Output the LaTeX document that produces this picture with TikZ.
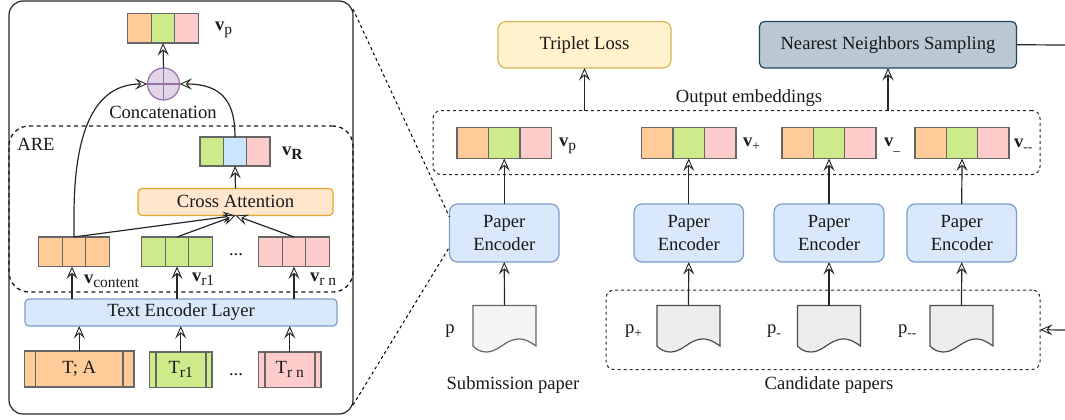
\documentclass[tikz,border=0pt]{standalone}
\usepackage{fontspec}
\setmainfont{Liberation Serif}
\usetikzlibrary{arrows.meta}
\definecolor{cOr}{HTML}{FFCC99}
\definecolor{cGr}{HTML}{CDEB8B}
\definecolor{cPk}{HTML}{FFCCCC}
\definecolor{cBl}{HTML}{CCE5FF}
\definecolor{cEnc}{HTML}{DAE8FC}
\definecolor{cEncS}{HTML}{7C9CCB}
\definecolor{cStroke}{HTML}{666666}
\definecolor{cPur}{HTML}{E1D5E7}
\definecolor{cPurS}{HTML}{9673A6}
\definecolor{cTri}{HTML}{FFF2CC}
\definecolor{cTriS}{HTML}{D6B656}
\definecolor{cNN}{HTML}{BAC8D3}
\definecolor{cNNS}{HTML}{23445D}
\definecolor{cCA}{HTML}{FFE6CC}
\definecolor{cCAS}{HTML}{E0A82E}
\newcommand{\bigfont}{\fontsize{18.6}{23}\selectfont}
\newcommand{\subfont}{\fontsize{15.5}{15}\selectfont}
\newcommand{\smfont}{\fontsize{13.5}{13}\selectfont}
\newcommand{\subt}[1]{\raisebox{-4pt}{\subfont #1}}
\newcommand{\subs}[1]{\raisebox{-4pt}{\smfont #1}}
% rectangle-like node from corners
\newcommand{\bx}[7]{\node[#6,inner sep=0pt,outer sep=0pt,align=center,minimum width={(#4)-(#2)},minimum height={(#5)-(#3)}] (#1) at ({((#2)+(#4))/2},{((#3)+(#5))/2}) {#7};}
% three-cell vector
\newcommand{\vecb}[8]{%
 \pgfmathsetmacro{\cw}{((#4)-(#2))/3}
 \node[cell,fill=#6,minimum width=\cw,minimum height={(#5)-(#3)}] (#1a) at ({(#2)+\cw/2},{((#3)+(#5))/2}) {};
 \node[cell,fill=#7,minimum width=\cw,minimum height={(#5)-(#3)}] (#1b) at ({(#2)+\cw*1.5},{((#3)+(#5))/2}) {};
 \node[cell,fill=#8,minimum width=\cw,minimum height={(#5)-(#3)}] (#1c) at ({(#2)+\cw*2.5},{((#3)+(#5))/2}) {};
 \node[inner sep=0pt,outer sep=0pt,minimum width={(#4)-(#2)},minimum height={(#5)-(#3)}] (#1) at ({((#2)+(#4))/2},{((#3)+(#5))/2}) {};}
% document shape
\newcommand{\docu}[3]{%
 \draw[#3] (#2,305.5) -- ({#2+63},305.5) -- ({#2+63},346) .. controls ({#2+52},338) and ({#2+45},337) .. ({#2+35},342) .. controls ({#2+26},347) and ({#2+22},352) .. ({#2+13},352) .. controls ({#2+7},352) and ({#2+3},349) .. (#2,346) -- cycle;
 \node[inner sep=0pt,outer sep=0pt,minimum width=63,minimum height=46.5] (#1) at ({#2+31.5},328.75) {};}
\tikzset{
 x=1pt,y=-1pt,
 every node/.style={font=\bigfont,text=black!90},
 cell/.style={draw=cStroke,line width=1.2pt,inner sep=0pt,outer sep=0pt},
 arr/.style={line width=1.2pt,draw=black!85,-{Stealth[length=12.5pt,width=11pt,inset=5pt,fill=white,line width=.9pt]}},
 plain/.style={line width=1.2pt,draw=black!85},
 dashbox/.style={draw=black!85,line width=1pt,dash pattern=on 3pt off 3pt,rounded corners=8pt},
 zoomline/.style={draw=black,line width=1pt,dash pattern=on 3pt off 3pt},
 encbox/.style={draw=cEncS,fill=cEnc,line width=1.2pt,rounded corners=8pt},
 labeltxt/.style={inner sep=0pt,outer sep=0pt},
 doclight/.style={draw=cStroke,fill=black!4,line width=1.2pt},
 docdark/.style={draw=black!70,fill=black!7,line width=1.2pt},
 tbox/.style={draw=cStroke,line width=1.2pt},
}
\begin{document}
\begin{tikzpicture}
\useasboundingbox (0,0) rectangle (1065,420);
% zoom lines
\coordinate (ztop) at (353,9);
\coordinate (zbot) at (353,405);
% left panel
\node[draw=black!85,line width=1.2pt,rounded corners=14pt,inner sep=0pt,outer sep=0pt,minimum width=344,minimum height=413] (panel) at (181,207.5) {};
\node[draw=black!90,line width=1.3pt,dash pattern=on 4pt off 3.5pt,rounded corners=20pt,inner sep=0pt,outer sep=0pt,minimum width=344,minimum height=166] (are) at (181,209) {};
\node[labeltxt] (arelab) at (36,144) {ARE};
\vecb{pv}{127.5}{13.5}{198.5}{43}{cOr}{cGr}{cPk}
\node[labeltxt,anchor=west] (pvlab) at (215,30) {\textbf{v}\subt{p}};
\node[circle,draw=cPurS,fill=cPur,line width=1.2pt,inner sep=0pt,outer sep=0pt,minimum size=32] (sum) at (163.5,84) {};
\draw[draw=cPurS,line width=1.2pt] (sum.north) -- (sum.south) (sum.west) -- (sum.east);
\node[labeltxt] (conc) at (163,112) {Concatenation};
\vecb{rv}{200}{137}{270}{166}{cGr}{cBl}{cPk}
\node[labeltxt,anchor=west] (rvlab) at (282,153) {\textbf{v}\raisebox{-4pt}{\subfont\textbf{R}}};
\bx{ca}{138}{188.5}{333}{215.5}{draw=cCAS,fill=cCA,line width=1.2pt,rounded corners=4pt}{\raisebox{1pt}{Cross Attention}}
\vecb{cv}{38.5}{237}{109.5}{266.5}{cOr}{cOr}{cOr}
\vecb{gv}{141.5}{237}{212.5}{266.5}{cGr}{cGr}{cGr}
\vecb{nv}{258.5}{237}{329.5}{266.5}{cPk}{cPk}{cPk}
\node[labeltxt] (dots1) at (236,255) {...};
\node[labeltxt,anchor=west] (cvlab) at (84,281) {\textbf{v}\subt{content}};
\node[labeltxt,anchor=west] (gvlab) at (192,279) {\textbf{v}\subt{r1}};
\node[labeltxt,anchor=west] (nvlab) at (310,279) {\textbf{v}\subt{r n}};
\bx{tel}{25}{299}{337}{326}{encbox,rounded corners=4pt}{Text Encoder Layer}
% bottom text blocks
\bx{ta}{24.5}{351}{134}{387}{tbox,fill=cOr}{T; A}
\draw[cStroke,line width=1.2pt] (35.5,351) -- (35.5,387) (123,351) -- (123,387);
\bx{tb}{149.5}{352}{212}{387.5}{tbox,fill=cGr}{T\subt{r1}}
\draw[cStroke,line width=1.2pt] (156,352) -- (156,387.5) (206,352) -- (206,387.5);
\bx{tc}{258.5}{352}{321}{387.5}{tbox,fill=cPk}{T\subt{r n}}
\draw[cStroke,line width=1.2pt] (265,352) -- (265,387.5) (315,352) -- (315,387.5);
\node[labeltxt] (dots2) at (236,375) {...};
% left connectors
\draw[arr] (sum.north) -- (pv.south);
\draw[arr] (cv.north) -- ++(0,-21) .. controls (74,130) and (95,84) .. (sum.west);
\draw[arr] (rv.north) .. controls (235,105) and (225,84) .. (sum.east);
\draw[arr] (ca.north) -- (rv.south);
\draw[arr] (cv.north) -- (ca.south);
\draw[arr] (gv.north) -- (ca.south);
\draw[arr] (nv.north) -- (ca.south);
\draw[arr] ([xshift=-2pt]tel.north -| cv.south) -- ([xshift=-2pt]cv.south);
\draw[arr] (tel.north -| gv.south) -- (gv.south);
\draw[arr] (tel.north -| nv.south) -- (nv.south);
\draw[arr] (ta.north) -- (tel.south -| ta.north);
\draw[arr] (tb.north) -- (tel.south -| tb.north);
\draw[arr] (tc.north) -- (tel.south -| tc.north);
% right panel top boxes
\bx{tl}{498}{21.5}{671}{68}{draw=cTriS,fill=cTri,line width=1.2pt,rounded corners=8pt}{\raisebox{-1.5pt}{Triplet Loss}}
\bx{nn}{759.5}{21.5}{1016.5}{68}{draw=cNNS,fill=cNN,line width=1.2pt,rounded corners=5pt}{\raisebox{-1.5pt}{Nearest Neighbors Sampling}}
\coordinate (nnend) at (1065,45);
\draw[plain] (nn.east) -- (nnend);
\node[labeltxt] (oelab) at (749,98) {Output embeddings};
% embeddings
\node[dashbox,inner sep=0pt,outer sep=0pt,minimum width=607,minimum height=64] (embbox) at (736.5,142.5) {};
\vecb{e1}{457}{127.5}{551.5}{158.5}{cOr}{cGr}{cPk}
\vecb{e2}{641.5}{127.5}{736}{158.5}{cOr}{cGr}{cPk}
\vecb{e3}{782}{127.5}{876}{158.5}{cOr}{cGr}{cPk}
\vecb{e4}{915}{127.5}{1009}{158.5}{cOr}{cGr}{cPk}
\node[labeltxt,anchor=west] (e1l) at (559,146) {\textbf{v}\subt{p}};
\node[labeltxt,anchor=west] (e2l) at (743,144) {\textbf{v}\subs{+}};
\node[labeltxt,anchor=west] (e3l) at (884,145) {\textbf{v}\subs{\_}};
\node[labeltxt,anchor=west] (e4l) at (1014,145) {\textbf{v}\subs{-{}-}};
% encoders
\bx{en1}{449.5}{204}{559}{262}{encbox}{Paper\\Encoder}
\bx{en2}{634}{204}{743.5}{262}{encbox}{Paper\\Encoder}
\bx{en3}{774}{204}{884}{262}{encbox}{Paper\\Encoder}
\bx{en4}{907}{204}{1016.5}{262}{encbox}{Paper\\Encoder}
% candidates box
\node[dashbox,inner sep=0pt,outer sep=0pt,minimum width=434,minimum height=79.5] (candbox) at (823,329.75) {};
% documents
\docu{d1}{473}{doclight}
\docu{d2}{657}{docdark}
\docu{d3}{797.5}{docdark}
\docu{d4}{930}{docdark}
\node[labeltxt] (p1) at (450,331) {p};
\node[labeltxt,anchor=west] (p2) at (625,331) {p\subs{+}};
\node[labeltxt,anchor=west] (p3) at (767,331) {p\subs{-}};
\node[labeltxt,anchor=west] (p4) at (898,331) {p\subs{-{}-}};
\node[labeltxt] (subp) at (513,385) {Submission paper};
\node[labeltxt] (candp) at (829,385) {Candidate papers};
% right connectors
\draw[arr] (embbox.north -| tl.south) -- (tl.south);
\draw[arr] (embbox.north -| nn.south) -- (nn.south);
\draw[arr] (en1.north) -- (e1.south);
\draw[arr] (en2.north) -- (e2.south);
\draw[arr] (en3.north) -- (e3.south);
\draw[arr] (en4.north) -- (e4.south);
\draw[arr] (d1.north) -- (en1.south);
\draw[arr] (d2.north) -- (en2.south);
\draw[arr] (d3.north) -- (en3.south);
\draw[arr] (d4.north) -- (en4.south);
\coordinate (inright) at (1065,330);
\draw[arr] (inright) -- (candbox.east);
\coordinate (en1a) at (449.5,217);
\coordinate (en1b) at (449.5,247);
\draw[zoomline] (ztop) -- (en1a);
\draw[zoomline] (zbot) -- (en1b);
\end{tikzpicture}
\end{document}
